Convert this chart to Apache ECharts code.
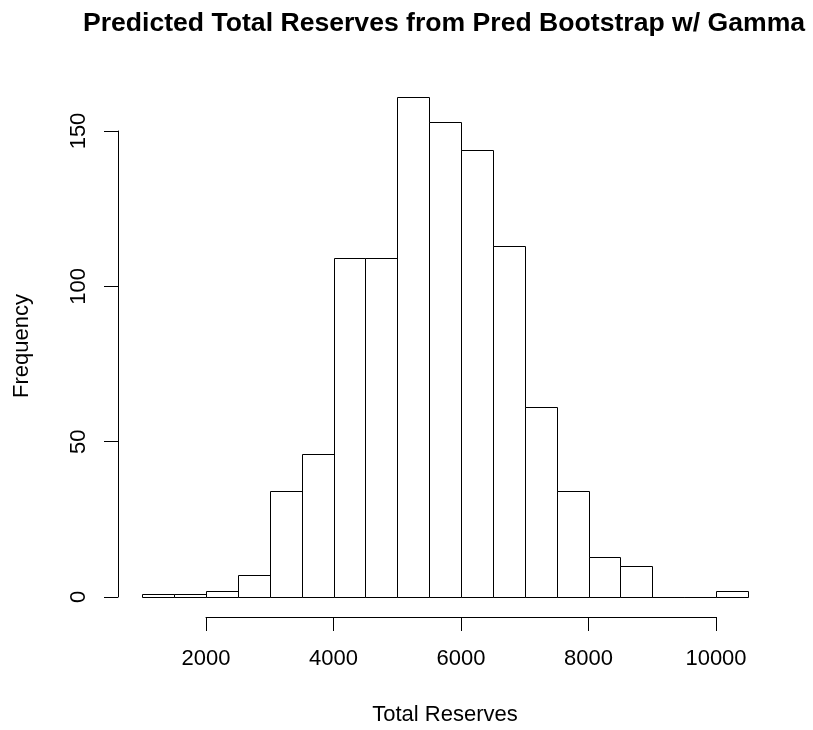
<!DOCTYPE html>
<html>
<head>
<meta charset="utf-8">
<title>Predicted Total Reserves</title>
<script src="https://cdn.jsdelivr.net/npm/echarts@6/dist/echarts.min.js"></script>
<style>
  html, body { margin: 0; padding: 0; background: #fff; }
  #chart { width: 813px; height: 730px; }
</style>
</head>
<body>
<div id="chart"></div>
<script>
// Histogram bin edges (Total Reserves) and the frequency in each bin
const binEdges = [1000, 1500, 2000, 2500, 3000, 3500, 4000, 4500, 5000, 5500,
                  6000, 6500, 7000, 7500, 8000, 8500, 9000, 9500, 10000, 10500];
const counts = [1, 1, 2, 7, 34, 46, 109, 109, 161, 153, 144, 113, 61, 34, 13, 10, 0, 0, 2];
const xTicks = [2000, 4000, 6000, 8000, 10000];
const yTicks = [0, 50, 100, 150];

const FONT = '"Liberation Sans", Arial, Helvetica, sans-serif';

const bins = counts.map((c, i) => [binEdges[i], binEdges[i + 1], c]);

const chart = echarts.init(document.getElementById('chart'), null, { renderer: 'canvas' });

const snap = v => Math.round(v) + 0.5;

chart.setOption({
  animation: false,
  backgroundColor: '#ffffff',
  grid: [
    // plotting area for the bars
    { left: 142.25, width: 605.75, top: 53.3, height: 543.7 },
    // bottom axis, spanning the tick range only
    { left: 206, width: 510, top: 616, height: 1 },
    // left axis, spanning the tick range only
    { left: 118, width: 1, top: 131, height: 466 }
  ],
  xAxis: [
    { gridIndex: 0, type: 'value', min: binEdges[0], max: binEdges[binEdges.length - 1], show: false },
    {
      gridIndex: 1, type: 'value', min: xTicks[0], max: xTicks[xTicks.length - 1], interval: 2000,
      position: 'bottom',
      axisLine: { show: true, lineStyle: { color: '#000', width: 1 } },
      axisTick: { show: true, length: 14, lineStyle: { color: '#000', width: 1 } },
      axisLabel: {
        show: true, margin: 31, fontSize: 22, color: '#000', fontFamily: FONT,
        showMinLabel: true, showMaxLabel: true,
        formatter: v => String(v)
      },
      splitLine: { show: false }
    },
    { gridIndex: 2, type: 'value', show: false }
  ],
  yAxis: [
    { gridIndex: 0, type: 'value', min: 0, max: 175, show: false },
    { gridIndex: 1, type: 'value', show: false },
    {
      gridIndex: 2, type: 'value', min: yTicks[0], max: yTicks[yTicks.length - 1], interval: 50,
      position: 'left',
      axisLine: { show: true, lineStyle: { color: '#000', width: 1 } },
      axisTick: { show: true, length: 14, lineStyle: { color: '#000', width: 1 } },
      axisLabel: {
        show: true, margin: 28, rotate: 90, fontSize: 22, color: '#000', fontFamily: FONT,
        showMinLabel: true, showMaxLabel: true,
        formatter: v => String(v)
      },
      splitLine: { show: false }
    }
  ],
  series: [{
    type: 'custom',
    xAxisIndex: 0,
    yAxisIndex: 0,
    clip: false,
    data: bins,
    renderItem: function (params, api) {
      const p0 = api.coord([api.value(0), 0]);
      const p1 = api.coord([api.value(1), api.value(2)]);
      const x0 = snap(p0[0]), x1 = snap(p1[0]);
      const yb = snap(p0[1]), yt = snap(p1[1]);
      return {
        type: 'rect',
        shape: { x: x0, y: yt, width: x1 - x0, height: yb - yt },
        style: { fill: '#ffffff', stroke: '#000000', lineWidth: 1 }
      };
    }
  }],
  graphic: [
    {
      type: 'text', x: 444, y: 10,
      style: {
        text: 'Predicted Total Reserves from Pred Bootstrap w/ Gamma',
        font: 'bold 26.6px ' + FONT, fill: '#000', textAlign: 'center', textVerticalAlign: 'top'
      }
    },
    {
      type: 'text', x: 445, y: 704,
      style: {
        text: 'Total Reserves',
        font: '22px ' + FONT, fill: '#000', textAlign: 'center', textVerticalAlign: 'top'
      }
    },
    {
      type: 'text', x: 11, y: 346, rotation: Math.PI / 2,
      style: {
        text: 'Frequency',
        font: '22px ' + FONT, fill: '#000', textAlign: 'center', textVerticalAlign: 'top'
      }
    }
  ]
});
</script>
</body>
</html>
